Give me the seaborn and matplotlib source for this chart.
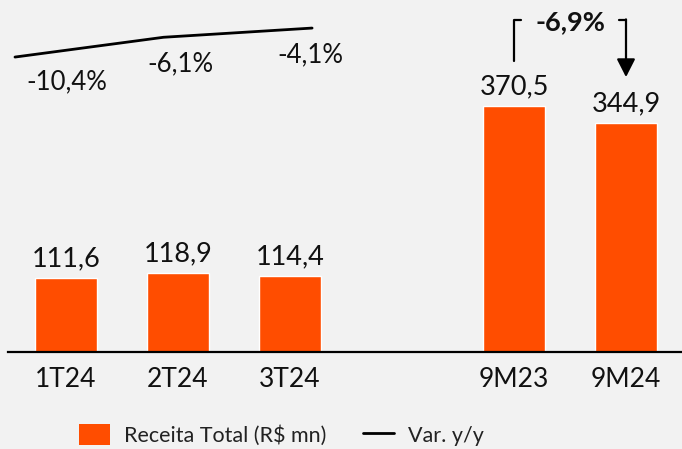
import matplotlib
matplotlib.use("Agg")
import matplotlib.pyplot as plt
import seaborn as sns
import pandas as pd
from matplotlib.patches import Patch
from matplotlib.lines import Line2D

# Data
periods = ["1T24", "2T24", "3T24", "9M23", "9M24"]
receita = [111.6, 118.9, 114.4, 370.5, 344.9]
var_periods = ["1T24", "2T24", "3T24"]
var_yy = [-10.4, -6.1, -4.1]
order = ["1T24", "2T24", "3T24", " ", "9M23", "9M24"]

ORANGE = "#FF4D00"
BG = "#F2F2F2"


def br(v, dec=1):
    return f"{v:.{dec}f}".replace(".", ",")


sns.set_theme(style="white")
plt.rcParams["font.family"] = ["Lato", "DejaVu Sans"]

df = pd.DataFrame({"periodo": periods, "receita": receita})

fig = plt.figure(figsize=(6.82, 4.49), dpi=100, facecolor=BG)
ax = fig.add_axes([8 / 682, 97 / 449, 674 / 682, 352 / 449], facecolor=BG)

sns.barplot(data=df, x="periodo", y="receita", order=order, color=ORANGE,
            saturation=1, width=0.56, errorbar=None, ax=ax)
for c in ax.containers:
    ax.bar_label(c, labels=[br(v) for v in receita], padding=5,
                 fontsize=19.5, color="#111111")

ax.set_xlim(-0.518, 5.5)
ax.set_ylim(0, 530)
ax.set_xlabel("")
ax.set_ylabel("")
ax.set_yticks([])
ax.tick_params(axis="x", length=0, pad=11, labelsize=19, labelcolor="#111111")
for s in ["top", "right", "left"]:
    ax.spines[s].set_visible(False)
ax.spines["bottom"].set_color("black")
ax.spines["bottom"].set_linewidth(1.6)

# 9M bracket annotation
i23, i24 = order.index("9M23"), order.index("9M24")
v23, v24 = receita[3], receita[4]
top = 500
ax.plot([i23, i23, i23 + 0.06], [v23 + 68, top, top], color="black", lw=1.6)
ax.plot([i24 - 0.06, i24], [top, top], color="black", lw=1.6)
ax.annotate("", xy=(i24, v24 + 69), xytext=(i24, top + 0.8),
            arrowprops=dict(arrowstyle="-|>,head_length=0.55,head_width=0.28",
                            mutation_scale=20, color="black", lw=1.6,
                            shrinkA=0, shrinkB=0))
pct = (v24 / v23 - 1) * 100
ax.text((i23 + i24) / 2, top - 3, br(pct) + "%", ha="center", va="center",
        fontsize=19.5, fontweight="bold", color="#111111")

# Var. y/y line
ax2 = fig.add_axes(ax.get_position(), facecolor="none")
xs = list(range(len(var_periods)))
sns.lineplot(x=xs, y=var_yy, color="black", lw=2, ax=ax2)
ax2.set_xlim(-0.047, 4.49)
ax2.set_ylim(-74.5, 2.0)
ax2.axis("off")
offsets = [(37, -18), (12, -19), (-1, -19)]
for x, v, off in zip(xs, var_yy, offsets):
    ax2.annotate(br(v) + "%", (x, v), xytext=off, textcoords="offset points",
                 ha="center", va="center", fontsize=18.5, color="#111111")

handles = [Patch(facecolor=ORANGE, edgecolor="none"),
           Line2D([0], [0], color="black", lw=2)]
fig.legend(handles, ["Receita Total (R$ mn)", "Var. y/y"], loc="center",
           bbox_to_anchor=(0.413, 0.031), ncol=2, frameon=False, fontsize=15.5,
           handlelength=1.45, handleheight=1.1, handletextpad=0.65,
           columnspacing=1.7, labelcolor="#222222")

fig.savefig("out.png", dpi=100, facecolor=BG)
